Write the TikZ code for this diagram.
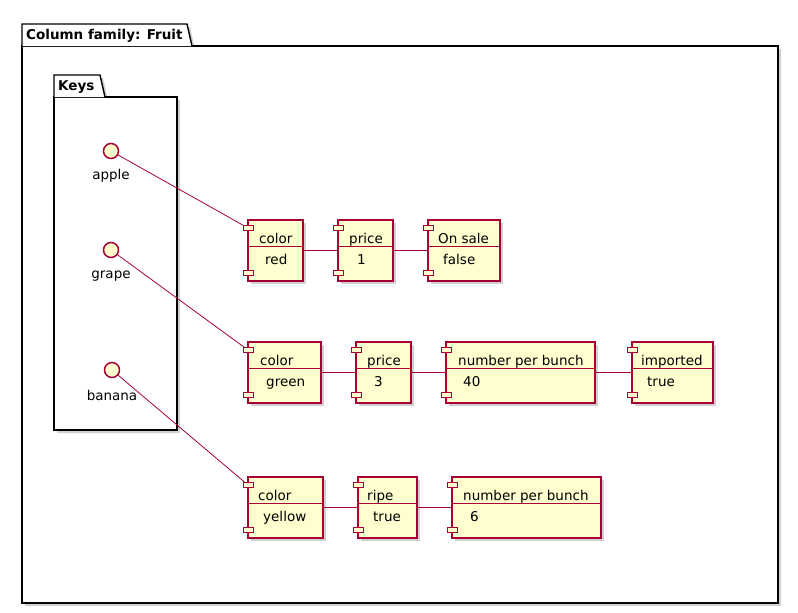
\documentclass[tikz,border=0pt]{standalone}
\usepackage{fontspec}
\setmainfont{DejaVu Sans}
\definecolor{umlfill}{HTML}{FEFECE}
\definecolor{umlred}{HTML}{A80036}
\tikzset{
  shadowc/.style={fill=black, opacity=0.18},
  pkg/.style={draw=black, line width=1.4pt, fill=white, line join=miter},
  compbox/.style={rectangle, draw=umlred, fill=umlfill, line width=1.2pt, inner sep=0pt, outer sep=0pt},
  port/.style={rectangle, draw=umlred, fill=umlfill, line width=1pt, inner sep=0pt, outer sep=0pt, minimum width=10pt, minimum height=5pt},
  sepline/.style={draw=umlred, line width=1pt},
  conn/.style={draw=umlred, line width=0.8pt},
  iface/.style={circle, draw=umlred, fill=umlfill, line width=1.5pt, minimum size=15pt, inner sep=0pt},
  txt/.style={anchor=base west, inner sep=0pt, font=\fontsize{13.5}{16}\selectfont},
  lbl/.style={anchor=center, inner sep=0pt, font=\fontsize{13.5}{16}\selectfont},
  ttl/.style={anchor=base west, inner sep=0pt, font=\fontsize{13.5}{16}\selectfont\bfseries},
}
\newcommand\mkcomp[9]{%
  \fill[shadowc] (#2+3,#3+3) rectangle (#4+3,#5+3);
  \node[compbox, minimum width=#4-#2, minimum height=#5-#3, anchor=north west] (#1) at (#2,#3) {};
  \draw[sepline] (#2,#3+26) -- (#4,#3+26);
  \node[port] (#1p) at (#2,#3+8) {};
  \node[port] (#1q) at (#2,#5-8) {};
  \node[txt] (#1h) at (#7,#3+23) {#6};
  \node[txt] (#1v) at (#9,#3+44) {#8};
}
\begin{document}
\begin{tikzpicture}[x=1pt,y=-1pt]
\useasboundingbox (0,0) rectangle (798,613);
\fill[white] (0,0) rectangle (798,613);
% outer package
\fill[shadowc] (25,27) -- (190,27) -- (195,49) -- (781,49) -- (781,606) -- (25,606) -- cycle;
\draw[pkg] (22,46) rectangle (778,603);
\draw[pkg] (22,46) -- (22,24) -- (187,24) -- (192,46);
\node[ttl] (fam) at (26,39) {Column family: Fruit};
% keys package
\fill[shadowc] (57,78) -- (103,78) -- (108,100) -- (180,100) -- (180,433) -- (57,433) -- cycle;
\draw[pkg] (54,97) rectangle (177,430);
\draw[pkg] (54,97) -- (54,75) -- (100,75) -- (105,97);
\node[ttl] (keys) at (58,90) {Keys};
% interfaces
\node[iface] (apple) at (111,151) {};
\node[lbl] (applel) at (111,176) {apple};
\node[iface] (grape) at (111,250) {};
\node[lbl] (grapel) at (111,276) {grape};
\node[iface] (banana) at (112,370) {};
\node[lbl] (bananal) at (112,395) {banana};
% row 1
\mkcomp{ca}{248}{220}{303}{281}{color}{259}{red}{265}
\mkcomp{pa}{338}{220}{393}{281}{price}{349}{1}{357}
\mkcomp{sa}{428}{220}{500}{281}{On sale}{438}{false}{443}
% row 2
\mkcomp{cg}{248}{342}{321}{403}{color}{260}{green}{266}
\mkcomp{pg}{356}{342}{411}{403}{price}{367}{3}{374}
\mkcomp{ng}{446}{342}{595}{403}{number per bunch}{458}{40}{463}
\mkcomp{ig}{632}{342}{713}{403}{imported}{641}{true}{647}
% row 3
\mkcomp{cb}{248}{477}{323}{538}{color}{258}{yellow}{263}
\mkcomp{rb}{358}{477}{417}{538}{ripe}{367}{true}{373}
\mkcomp{nb}{452}{477}{601}{538}{number per bunch}{463}{6}{470}
% connectors
\draw[conn] (apple) -- (cap);
\draw[conn] (ca) -- (pa);
\draw[conn] (pa) -- (sa);
\draw[conn] (grape) -- (cgp);
\draw[conn] (cg) -- (pg);
\draw[conn] (pg) -- (ng);
\draw[conn] (ng) -- (ig);
\draw[conn] (banana) -- (cbp);
\draw[conn] (cb) -- (rb);
\draw[conn] (rb) -- (nb);
\end{tikzpicture}
\end{document}
